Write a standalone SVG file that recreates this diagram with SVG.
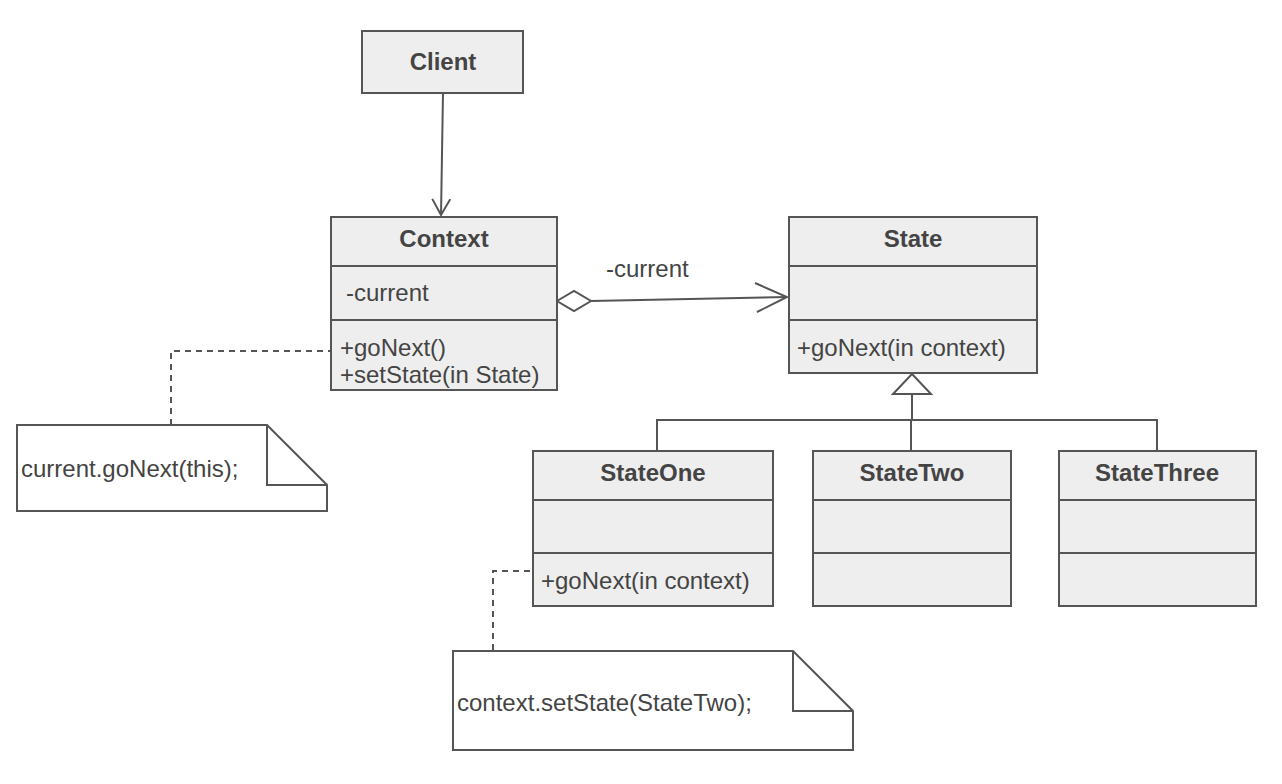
<svg xmlns="http://www.w3.org/2000/svg" width="1282" height="784" viewBox="0 0 1282 784">
  <style>
    .box { fill: #eeeeee; stroke: #555555; stroke-width: 2; }
    .note { fill: #ffffff; stroke: #555555; stroke-width: 2; }
    .sep { stroke: #555555; stroke-width: 2; fill: none; }
    .line { stroke: #555555; stroke-width: 2; fill: none; }
    .dash { stroke: #555555; stroke-width: 2; fill: none; stroke-dasharray: 6 5; }
    text { font-family: "Liberation Sans", Arial, Helvetica, sans-serif; font-size: 24px; fill: #444444; }
    .title { font-weight: bold; text-anchor: middle; }
  </style>
  <defs>
    <marker id="open-arrow" viewBox="0 0 20 20" refX="18" refY="10" markerWidth="20" markerHeight="20" markerUnits="userSpaceOnUse" orient="auto">
      <path d="M2,1 L18,10 L2,19" fill="none" stroke="#555555" stroke-width="2"/>
    </marker>
  </defs>
  <rect width="1282" height="784" fill="#ffffff"/>

  <g id="connectors">
    <!-- Client to Context association -->
    <line class="line" x1="443" y1="93" x2="441" y2="215" marker-end="url(#open-arrow)"/>
    <!-- Context aggregates State -->
    <line class="line" x1="591" y1="301" x2="787" y2="297"/>
    <path class="line" d="M755,283 L787,297 L757,312"/>
    <path d="M557,301 L574,291 L591,301 L574,311 Z" fill="#ffffff" stroke="#555555" stroke-width="2"/>
    <text x="606" y="277">-current</text>
    <!-- Generalization tree -->
    <path d="M912,374 L931,394 L893,394 Z" fill="#ffffff" stroke="#555555" stroke-width="2"/>
    <line class="line" x1="912" y1="394" x2="912" y2="420"/>
    <line class="line" x1="657" y1="420" x2="1157" y2="420"/>
    <line class="line" x1="657" y1="419" x2="657" y2="451"/>
    <line class="line" x1="911" y1="420" x2="911" y2="451"/>
    <line class="line" x1="1157" y1="419" x2="1157" y2="451"/>
    <!-- Note anchors -->
    <path class="dash" d="M171,425 L171,351 L331,351"/>
    <path class="dash" d="M493,650 L493,571 L533,571"/>
  </g>

  <g id="client">
    <rect class="box" x="362" y="31" width="161" height="62"/>
    <text class="title" x="443" y="70">Client</text>
  </g>

  <g id="context">
    <rect class="box" x="331" y="217" width="226" height="173"/>
    <line class="sep" x1="331" y1="266" x2="557" y2="266"/>
    <line class="sep" x1="331" y1="320" x2="557" y2="320"/>
    <text class="title" x="444" y="247">Context</text>
    <text x="346" y="301">-current</text>
    <text x="340" y="356">+goNext()</text>
    <text x="340" y="383">+setState(in State)</text>
  </g>

  <g id="state">
    <rect class="box" x="789" y="217" width="248" height="156"/>
    <line class="sep" x1="789" y1="266" x2="1037" y2="266"/>
    <line class="sep" x1="789" y1="320" x2="1037" y2="320"/>
    <text class="title" x="913" y="247">State</text>
    <text x="797" y="356">+goNext(in context)</text>
  </g>

  <g id="state-one">
    <rect class="box" x="533" y="451" width="240" height="155"/>
    <line class="sep" x1="533" y1="500" x2="773" y2="500"/>
    <line class="sep" x1="533" y1="553" x2="773" y2="553"/>
    <text class="title" x="653" y="481">StateOne</text>
    <text x="541" y="589">+goNext(in context)</text>
  </g>

  <g id="state-two">
    <rect class="box" x="813" y="451" width="198" height="155"/>
    <line class="sep" x1="813" y1="500" x2="1011" y2="500"/>
    <line class="sep" x1="813" y1="553" x2="1011" y2="553"/>
    <text class="title" x="912" y="481">StateTwo</text>
  </g>

  <g id="state-three">
    <rect class="box" x="1059" y="451" width="197" height="155"/>
    <line class="sep" x1="1059" y1="500" x2="1256" y2="500"/>
    <line class="sep" x1="1059" y1="553" x2="1256" y2="553"/>
    <text class="title" x="1157" y="481">StateThree</text>
  </g>

  <g id="note-context">
    <path class="note" d="M17,425 L267,425 L327,485 L327,511 L17,511 Z"/>
    <path class="line" d="M267,425 L267,485 L327,485"/>
    <text x="21" y="477">current.goNext(this);</text>
  </g>

  <g id="note-state-one">
    <path class="note" d="M453,651 L793,651 L853,711 L853,750 L453,750 Z"/>
    <path class="line" d="M793,651 L793,711 L853,711"/>
    <text x="457" y="711">context.setState(StateTwo);</text>
  </g>
</svg>
